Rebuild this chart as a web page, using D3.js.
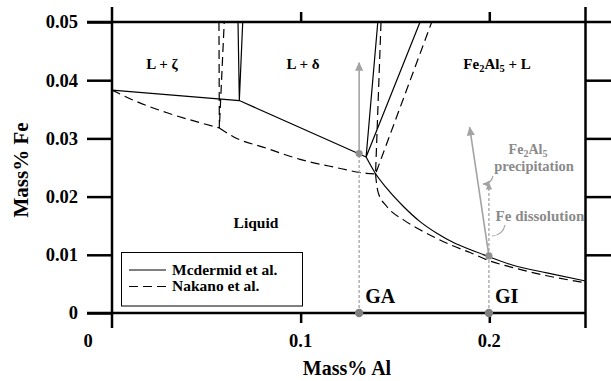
<!DOCTYPE html>
<html>
<head>
<meta charset="utf-8">
<script src="https://cdn.jsdelivr.net/npm/d3@7"></script>
<style>
  html, body { margin: 0; padding: 0; background: #fff; }
  svg { display: block; }
  svg text { font-family: "Liberation Serif", "Times New Roman", serif !important; font-weight: bold; }
</style>
</head>
<body>
<svg id="chart" width="611" height="381" font-family="Liberation Serif" font-weight="bold"></svg>
<script>
// ---------- data (mass% Al, mass% Fe) ----------
const xTickValues = [0, 0.1, 0.2];
const xTickLabels = ["0", "0.1", "0.2"];
const yTickValues = [0, 0.01, 0.02, 0.03, 0.04, 0.05];
const yTickLabels = ["0", "0.01", "0.02", "0.03", "0.04", "0.05"];

// Mcdermid et al. (solid)
const mcdermidUpper = [[0, 0.0383], [0.0675, 0.0365], [0.1347, 0.0268]];
const mcdermidLower = [[0.1347, 0.0268], [0.1394, 0.0241], [0.1457, 0.0214], [0.1545, 0.0183],
  [0.1633, 0.0157], [0.1722, 0.0137], [0.1810, 0.0121], [0.1898, 0.0109], [0.1996, 0.0097],
  [0.2126, 0.0082], [0.2305, 0.0069], [0.2510, 0.0055]];
const mcdermidZeta = [[0.0668, 0.05], [0.0675, 0.0365], [0.0693, 0.05]];
const mcdermidDelta = [[0.1409, 0.05], [0.1347, 0.0268], [0.1633, 0.05]];

// Nakano et al. (dashed)
const nakanoZetaBranch = [[0, 0.0383], [0.0111, 0.0366], [0.0292, 0.0344], [0.0467, 0.0327], [0.0569, 0.0318]];
const nakanoDeltaBranch = [[0.0569, 0.0318], [0.0643, 0.0303], [0.0820, 0.0283], [0.0997, 0.0264],
  [0.1172, 0.0251], [0.1350, 0.0240], [0.1397, 0.0239]];
const nakanoLower = [[0.1397, 0.0239], [0.1400, 0.0229], [0.1412, 0.0206], [0.1457, 0.0183],
  [0.1545, 0.0160], [0.1633, 0.0143], [0.1722, 0.0128], [0.1810, 0.0115], [0.1898, 0.0104],
  [0.1998, 0.0090], [0.2126, 0.0078], [0.2305, 0.0064], [0.2510, 0.0052]];
const nakanoZeta = [[0.0567, 0.05], [0.0569, 0.0318], [0.0595, 0.05]];
const nakanoDelta = [[0.1426, 0.05], [0.1397, 0.0239], [0.1695, 0.05]];

// Bath samples GA, GI and their paths
const sampleNames = ["GA", "GI"];
const sampleAl = [0.131, 0.1998];
const sampleFeAtLiquidus = [0.0274, 0.0098];
const gaArrowEnd = [0.131, 0.0430];
const giPrecipArrowEnd = [0.1896, 0.0319];
const giDissolutionEnd = [0.1998, 0.0223];

// ---------- drawing ----------
const svg = d3.select("#chart");
const x = d3.scaleLinear().domain([0, 0.251]).range([112, 585.5]);
const y = d3.scaleLinear().domain([0, 0.05]).range([313, 22]);
const xL = x.range()[0], xR = x.range()[1];
const yB = y.range()[0], yT = y.range()[1];

const defs = svg.append("defs");
function arrowMarker(id, size, color) {
  defs.append("marker").attr("id", id)
    .attr("viewBox", "0 0 10 10").attr("refX", 9).attr("refY", 5)
    .attr("markerWidth", size).attr("markerHeight", size)
    .attr("markerUnits", "userSpaceOnUse").attr("orient", "auto")
    .append("path").attr("d", "M0,0.5 L10,5 L0,9.5 Z").attr("fill", color);
}
arrowMarker("arrowBig", 9, "#a3a3a3");
arrowMarker("arrowSmall", 7, "#a3a3a3");

// frame lines
const frame = svg.append("g").attr("stroke", "#000").attr("stroke-width", 2.5);
frame.append("line").attr("x1", 87).attr("x2", 611).attr("y1", yT).attr("y2", yT);
frame.append("line").attr("x1", 87).attr("x2", xR).attr("y1", yB).attr("y2", yB);
frame.append("line").attr("x1", xL).attr("x2", xL).attr("y1", 7).attr("y2", 328);
frame.append("line").attr("x1", xR).attr("x2", xR).attr("y1", 7).attr("y2", 328);

function styleAxis(g) {
  g.attr("font-family", "Liberation Serif");
  g.select(".domain").remove();
  g.selectAll(".tick line").attr("stroke", "#000").attr("stroke-width", 2.5);
}
// left axis with labels
svg.append("g").attr("transform", `translate(${xL},0)`)
  .call(d3.axisLeft(y).tickValues(yTickValues).tickSize(25).tickPadding(9)
    .tickFormat((d, i) => yTickLabels[i]))
  .call(styleAxis)
  .call(g => g.selectAll(".tick text").attr("font-size", 18.5).attr("fill", "#000")
    .attr("font-weight", "bold"));
// right ticks
svg.append("g").attr("transform", `translate(${xR},0)`)
  .call(d3.axisRight(y).tickValues(yTickValues.slice(1, 5)).tickSize(26).tickFormat(""))
  .call(styleAxis);
// top ticks
svg.append("g").attr("transform", `translate(0,${yT})`)
  .call(d3.axisTop(x).tickValues(xTickValues.slice(1)).tickSize(10).tickFormat(""))
  .call(styleAxis);
// bottom ticks
svg.append("g").attr("transform", `translate(0,${yB})`)
  .call(d3.axisBottom(x).tickValues(xTickValues.slice(1)).tickSize(10).tickFormat(""))
  .call(styleAxis);
// bottom labels
svg.append("g").selectAll("text").data(xTickValues).join("text")
  .attr("x", (d) => d === 0 ? x(d) - 24 : x(d))
  .attr("y", 347).attr("text-anchor", "middle").attr("font-size", 18.5)
  .text((d, i) => xTickLabels[i]);

// axis titles
svg.append("text").attr("x", 347).attr("y", 375).attr("text-anchor", "middle")
  .attr("font-size", 20).text("Mass% Al");
svg.append("text").attr("transform", "translate(28,170) rotate(-90)")
  .attr("text-anchor", "middle").attr("font-size", 21).text("Mass% Fe");

// curves
const lineLin = d3.line().x(d => x(d[0])).y(d => y(d[1]));
const lineSmooth = d3.line().x(d => x(d[0])).y(d => y(d[1])).curve(d3.curveMonotoneX);
const curves = svg.append("g").attr("fill", "none").attr("stroke", "#000").attr("stroke-width", 1.2);
curves.append("path").attr("d", lineLin(mcdermidUpper));
curves.append("path").attr("d", lineSmooth(mcdermidLower));
curves.append("path").attr("d", lineLin(mcdermidZeta));
curves.append("path").attr("d", lineLin(mcdermidDelta));
const dash = "9,5";
curves.append("path").attr("d", lineSmooth(nakanoZetaBranch)).attr("stroke-dasharray", dash);
curves.append("path").attr("d", lineSmooth(nakanoDeltaBranch)).attr("stroke-dasharray", dash);
curves.append("path").attr("d", lineSmooth(nakanoLower)).attr("stroke-dasharray", dash);
curves.append("path").attr("d", lineLin(nakanoZeta)).attr("stroke-dasharray", dash);
curves.append("path").attr("d", lineLin(nakanoDelta)).attr("stroke-dasharray", dash);

// region labels
const reg = svg.append("g").attr("font-size", 15).attr("text-anchor", "middle").attr("fill", "#000");
reg.append("text").attr("x", 162).attr("y", 68.5).text("L + ζ");
reg.append("text").attr("x", 303).attr("y", 68.5).text("L + δ");
const fe = reg.append("text").attr("x", 497).attr("y", 68.5);
fe.append("tspan").text("Fe");
fe.append("tspan").attr("font-size", 10.5).attr("dy", 3).text("2");
fe.append("tspan").attr("dy", -3).text("Al");
fe.append("tspan").attr("font-size", 10.5).attr("dy", 3).text("5");
fe.append("tspan").attr("dy", -3).text(" + L");
reg.append("text").attr("x", 256).attr("y", 228).attr("font-size", 15.5).text("Liquid");

// gray sample annotations
const ann = svg.append("g");
const gray = "#a3a3a3";
// dashed verticals from the axis
sampleAl.forEach((a, i) => {
  ann.append("line").attr("x1", x(a)).attr("x2", x(a)).attr("y1", y(0)).attr("y2", y(sampleFeAtLiquidus[i]))
    .attr("stroke", gray).attr("stroke-width", 1.3).attr("stroke-dasharray", "3,2");
});
// GA arrow (solid, upward)
ann.append("line").attr("x1", x(sampleAl[0])).attr("y1", y(sampleFeAtLiquidus[0]))
  .attr("x2", x(gaArrowEnd[0])).attr("y2", y(gaArrowEnd[1]))
  .attr("stroke", gray).attr("stroke-width", 1.6).attr("marker-end", "url(#arrowBig)");
// GI precipitation arrow
ann.append("line").attr("x1", x(sampleAl[1])).attr("y1", y(sampleFeAtLiquidus[1]))
  .attr("x2", x(giPrecipArrowEnd[0])).attr("y2", y(giPrecipArrowEnd[1]))
  .attr("stroke", gray).attr("stroke-width", 1.6).attr("marker-end", "url(#arrowBig)");
// GI dissolution arrow (dashed)
ann.append("line").attr("x1", x(sampleAl[1])).attr("y1", y(sampleFeAtLiquidus[1]))
  .attr("x2", x(giDissolutionEnd[0])).attr("y2", y(giDissolutionEnd[1]))
  .attr("stroke", gray).attr("stroke-width", 1.3).attr("stroke-dasharray", "3,2")
  .attr("marker-end", "url(#arrowSmall)");
// dots
sampleAl.forEach((a, i) => {
  ann.append("circle").attr("cx", x(a)).attr("cy", y(0)).attr("r", 4.2).attr("fill", "#808080");
  ann.append("circle").attr("cx", x(a)).attr("cy", y(sampleFeAtLiquidus[i])).attr("r", 3.6).attr("fill", "#909090");
});
// sample names
ann.selectAll("text.sname").data(sampleNames).join("text").attr("class", "sname")
  .attr("x", (d, i) => x(sampleAl[i]) + 6).attr("y", 303).attr("font-size", 20).attr("fill", "#000")
  .text(d => d);
// leaders
ann.append("path").attr("d", "M493,176 Q491,184 483,184")
  .attr("fill", "none").attr("stroke", gray).attr("stroke-width", 1.2).attr("marker-end", "url(#arrowSmall)");
ann.append("path").attr("d", "M505,225 Q503,235 492,236")
  .attr("fill", "none").attr("stroke", gray).attr("stroke-width", 1.2);
// gray texts
const gt = ann.append("g").attr("fill", "#8a8a8a").attr("font-size", 14).attr("text-anchor", "middle");
const fa = gt.append("text").attr("x", 528).attr("y", 154);
fa.append("tspan").text("Fe");
fa.append("tspan").attr("font-size", 10).attr("dy", 2.5).text("2");
fa.append("tspan").attr("dy", -2.5).text("Al");
fa.append("tspan").attr("font-size", 10).attr("dy", 2.5).text("5");
gt.append("text").attr("x", 534).attr("y", 170.5).attr("font-size", 14.5).text("precipitation");
gt.append("text").attr("x", 540).attr("y", 220.5).attr("font-size", 15).text("Fe dissolution");

// legend
const leg = svg.append("g");
leg.append("rect").attr("x", 121.5).attr("y", 252.5).attr("width", 181).attr("height", 53.5)
  .attr("fill", "#fff").attr("stroke", "#000").attr("stroke-width", 1);
leg.append("line").attr("x1", 129).attr("x2", 166).attr("y1", 270).attr("y2", 270)
  .attr("stroke", "#000").attr("stroke-width", 1.2);
leg.append("line").attr("x1", 129).attr("x2", 166).attr("y1", 286.5).attr("y2", 286.5)
  .attr("stroke", "#000").attr("stroke-width", 1.2).attr("stroke-dasharray", "9,5");
leg.append("text").attr("x", 172).attr("y", 274.5).attr("font-size", 15.5).text("Mcdermid et al.");
leg.append("text").attr("x", 172).attr("y", 291).attr("font-size", 15.5).text("Nakano et al.");
</script>
</body>
</html>
